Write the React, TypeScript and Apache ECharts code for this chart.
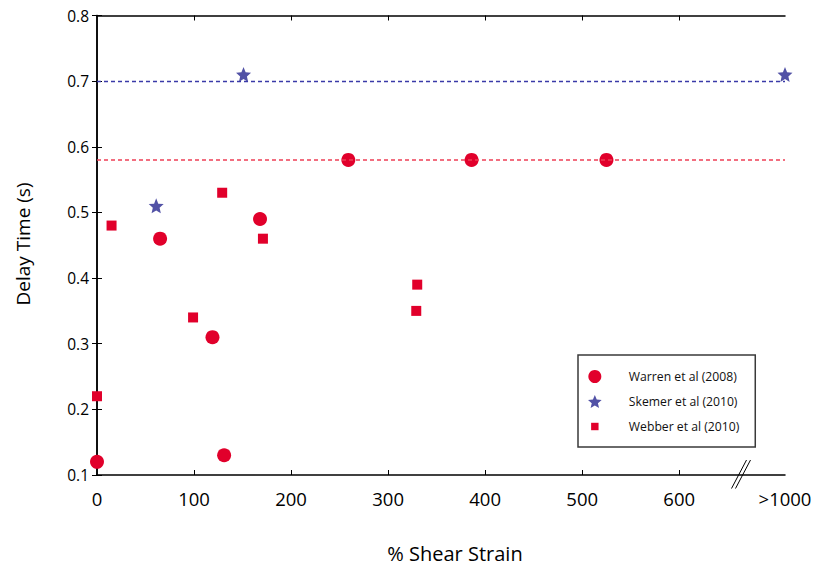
import React, { useEffect, useRef } from "react";
import * as echarts from "echarts";

// ">1000" is drawn past an axis break, at this position on the linear axis
const GT1000 = 709;

const xTickValues = [100, 200, 300, 400, 500, 600];
const xLabelValues = [0, 100, 200, 300, 400, 500, 600, GT1000];
const xLabelTexts = ["0", "100", "200", "300", "400", "500", "600", ">1000"];

const warrenX = [0, 65, 119, 131, 168, 259, 386, 525];
const warrenY = [0.12, 0.46, 0.31, 0.13, 0.49, 0.58, 0.58, 0.58];

const skemerX = [61, 151, GT1000];
const skemerY = [0.51, 0.71, 0.71];

const webberX = [0, 15, 99, 129, 171, 330, 329];
const webberY = [0.22, 0.48, 0.34, 0.53, 0.46, 0.39, 0.35];

const warrenMean = 0.58;
const skemerMean = 0.7;

const seriesNames = ["Warren et al (2008)", "Skemer et al (2010)", "Webber et al (2010)"];

const STAR =
  "path://M0,-10L2.645,-3.641L9.511,-3.09L4.28,1.391L5.878,8.09L0,4.5L-5.878,8.09L-4.28,1.391L-9.511,-3.09L-2.645,-3.641Z";
const SMALL_SQUARE = "path://M0,0M14,14M3,3L11,3L11,11L3,11Z";

const RED = "#E1002B";
const BLUE = "#5252A6";
const FONT = "Open Sans";

const zip = (xs: number[], ys: number[]) => xs.map((x, i) => [x, ys[i]]);

export default function App() {
  const ref = useRef<HTMLDivElement>(null);
  useEffect(() => {
    if (!ref.current) return;
    const chart = echarts.init(ref.current, undefined, { renderer: "svg" });
    const axisLine = { show: true, lineStyle: { color: "#000", width: 1.5 } };
    const tickStyle = { color: "#000", width: 1 };
    chart.setOption({
      animation: false,
      backgroundColor: "#fff",
      textStyle: { fontFamily: FONT },
      grid: { left: 97, right: 30, top: 15.5, bottom: 90, containLabel: false },
      xAxis: [
        {
          type: "value",
          position: "bottom",
          min: 0,
          max: GT1000,
          interval: 100,
          axisLine,
          axisTick: { show: true, inside: true, length: 5, customValues: xTickValues, lineStyle: tickStyle },
          axisLabel: {
            customValues: xLabelValues,
            showMaxLabel: true,
            showMinLabel: true,
            formatter: (v: number) => {
              const i = xLabelValues.indexOf(v);
              return i >= 0 ? xLabelTexts[i] : "";
            },
            fontSize: 18.5,
            color: "#000",
            margin: 14,
            fontFamily: FONT,
          },
          splitLine: { show: false },
        },
        {
          type: "value",
          position: "top",
          min: 0,
          max: GT1000,
          interval: 100,
          axisLine,
          axisTick: { show: true, inside: true, length: 5, customValues: xTickValues, lineStyle: tickStyle },
          axisLabel: { show: false },
          splitLine: { show: false },
        },
      ],
      yAxis: [
        {
          type: "value",
          position: "left",
          min: 0.1,
          max: 0.8,
          interval: 0.1,
          axisLine,
          axisTick: { show: true, inside: true, length: 5, lineStyle: tickStyle },
          axisLabel: {
            formatter: (v: number) => v.toFixed(1),
            fontSize: 15.5,
            color: "#000",
            margin: 8,
            fontFamily: FONT,
          },
          splitLine: { show: false },
        },
        {
          type: "value",
          position: "right",
          min: 0.1,
          max: 0.8,
          interval: 0.1,
          axisLine,
          axisTick: { show: true, inside: true, length: 5, lineStyle: tickStyle },
          axisLabel: { show: false },
          splitLine: { show: false },
        },
      ],
      legend: {
        orient: "vertical",
        left: 578,
        top: 355,
        padding: [15, 16, 14, 10],
        itemWidth: 22,
        itemHeight: 13,
        itemGap: 12,
        selectedMode: false,
        borderColor: "#3a3a3a",
        borderWidth: 1.5,
        backgroundColor: "#fff",
        textStyle: { fontSize: 12.2, color: "#111", padding: [0, 0, 0, 18], fontFamily: FONT },
        data: [
          { name: seriesNames[0], icon: "circle" },
          { name: seriesNames[1], icon: STAR },
          { name: seriesNames[2], icon: SMALL_SQUARE },
        ],
      },
      series: [
        {
          type: "line",
          data: [],
          z: 1,
          silent: true,
          markLine: {
            silent: true,
            symbol: "none",
            label: { show: false },
            data: [
              { yAxis: warrenMean, lineStyle: { color: "#EE3F55", width: 1.5, type: [4, 3], opacity: 1 } },
              { yAxis: skemerMean, lineStyle: { color: "#3A3AA8", width: 1.4, type: [4, 3], opacity: 1 } },
            ],
          },
        },
        {
          name: seriesNames[0],
          type: "scatter",
          z: 3,
          symbol: "circle",
          symbolSize: 14,
          itemStyle: { color: RED, opacity: 1 },
          data: zip(warrenX, warrenY),
        },
        {
          name: seriesNames[1],
          type: "scatter",
          z: 3,
          symbol: STAR,
          symbolSize: 15,
          itemStyle: { color: BLUE, opacity: 1 },
          data: zip(skemerX, skemerY),
        },
        {
          name: seriesNames[2],
          type: "scatter",
          z: 3,
          symbol: "rect",
          symbolSize: 10,
          itemStyle: { color: RED, opacity: 1 },
          data: zip(webberX, webberY),
        },
      ],
      graphic: [
        {
          type: "text",
          x: 455,
          y: 553,
          style: {
            text: "% Shear Strain",
            fontSize: 20,
            fontFamily: FONT,
            fill: "#000",
            align: "center",
            verticalAlign: "middle",
          },
        },
        {
          type: "text",
          x: 23,
          y: 244,
          rotation: Math.PI / 2,
          style: {
            text: "Delay Time (s)",
            fontSize: 19,
            fontFamily: FONT,
            fill: "#000",
            align: "center",
            verticalAlign: "middle",
          },
        },
        {
          type: "line",
          shape: { x1: 731.5, y1: 488.5, x2: 746.5, y2: 460 },
          style: { stroke: "#000", lineWidth: 1 },
        },
        {
          type: "line",
          shape: { x1: 735.5, y1: 488.5, x2: 750.5, y2: 460 },
          style: { stroke: "#000", lineWidth: 1 },
        },
      ],
    });
    return () => chart.dispose();
  }, []);
  return (
    <div
      ref={ref}
      style={{ position: "absolute", left: 0, top: 0, width: 815, height: 565, background: "#fff" }}
    />
  );
}
